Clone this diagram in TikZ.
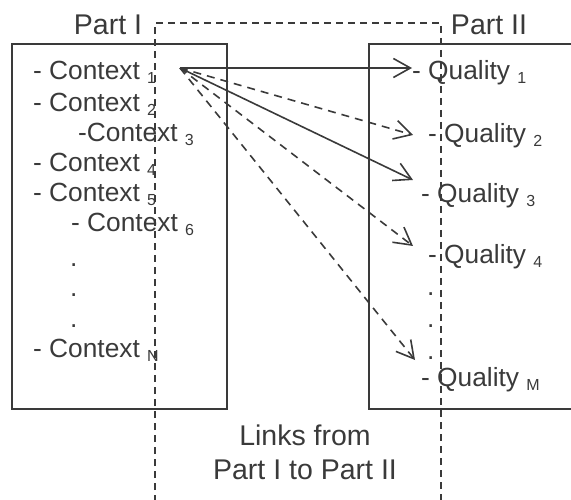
\documentclass[tikz,border=0pt]{standalone}
\usepackage{fontspec}
\setmainfont{Liberation Sans}
\usetikzlibrary{arrows.meta, positioning}
\definecolor{ink}{HTML}{3A3A3A}
\newcommand{\idx}[1]{\raisebox{-4pt}{\fontsize{16}{16}\selectfont #1}}

\begin{document}
\begin{tikzpicture}[x=1pt, y=-1pt, ink,
  item/.style={anchor=base west, inner sep=0pt, font=\fontsize{26.3}{30}\selectfont, text=ink},
  part/.style={anchor=base, inner sep=0pt, font=\fontsize{28.5}{34}\selectfont, text=ink},
  link/.style={-{Straight Barb[length=17pt, width=19pt, line width=1.6pt]}, line width=1.6pt},
  dlink/.style={link, dash pattern=on 8pt off 6pt}]
\useasboundingbox (0,0) rectangle (571,500);

% the two parts
\draw[line width=2pt] (12,44) rectangle (227,409);
\draw[line width=2pt] (575,44) -- (369,44) -- (369,409) -- (575,409);
\node[part] (part1) at (108,35) {Part I};
\node[part] (part2) at (489,35) {Part II};

% links region
\draw[line width=1.4pt, dash pattern=on 7pt off 5pt] (155,502) -- (155,23) -- (441,23) -- (441,502);
\node[part, align=center] (links) at (305,479) {Links from\\Part I to Part II};

% Part I items
\node[item] (ctx1) at (33,80) {- Context \idx{1}};
\node[item] (ctx2) at (33,112) {- Context \idx{2}};
\node[item] (ctx3) at (78,142) {-Context \idx{3}};
\node[item] (ctx4) at (33,172) {- Context \idx{4}};
\node[item] (ctx5) at (33,202) {- Context \idx{5}};
\node[item] (ctx6) at (71,232) {- Context \idx{6}};
\foreach \y/\n in {266/a, 296/b, 327/c}
  \node[item] (cdot\n) at (70,\y) {.};
\node[item] (ctxN) at (33,357) {- Context \idx{N}};

% Part II items
\node[item] (q1) at (412,80) {- Quality \idx{1}};
\node[item] (q2) at (428,143) {- Quality \idx{2}};
\node[item] (q3) at (421,203) {- Quality \idx{3}};
\node[item] (q4) at (428,264) {- Quality \idx{4}};
\foreach \y/\n in {295/a, 327/b, 359/c}
  \node[item] (qdot\n) at (427,\y) {.};
\node[item] (qM) at (421,386) {- Quality \idx{M}};

% links from Context 1
\coordinate (hub) at (180,68);
\coordinate (tip2) at (413,135);
\coordinate (tip3) at (413,180);
\coordinate (tip4) at (413,246);
\coordinate (tip5) at (415,360);
\draw[link] (hub) -- (q1.west |- hub);
\draw[dlink] (hub) -- (tip2);
\draw[link] (hub) -- (tip3);
\draw[dlink] (hub) -- (tip4);
\draw[dlink] (hub) -- (tip5);
\end{tikzpicture}
\end{document}
